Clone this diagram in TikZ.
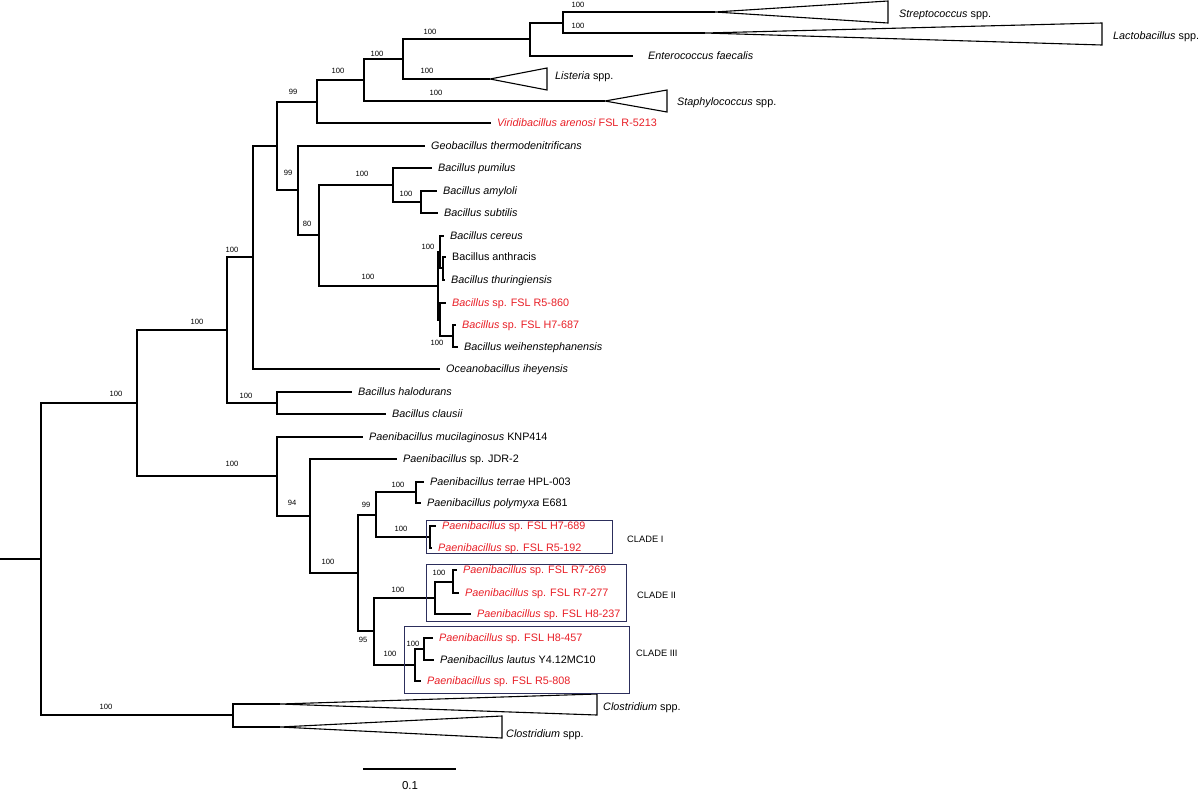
\documentclass[tikz,border=0pt]{standalone}
\usepackage{fontspec}
\setmainfont{Liberation Sans}
\usepackage{xcolor}
\definecolor{fslred}{RGB}{232,30,38}
\definecolor{cladeblue}{RGB}{44,46,92}

\begin{document}
\begin{tikzpicture}[x=1pt, y=-1pt,
                    branch/.style={line width=1.1pt},
                    leaf/.style={anchor=west, inner xsep=6pt, inner ysep=0pt,
                                 text height=9.4pt, text depth=2pt,
                                 font=\fontsize{10.8}{12}\selectfont},
                    fsl/.style={leaf, text=fslred},
                    boot/.style={inner sep=0pt, font=\fontsize{7.6}{8}\selectfont},
                    cladebox/.style={draw=cladeblue, line width=1pt},
                    clade/.style={anchor=west, inner sep=0pt, font=\fontsize{9.3}{11}\selectfont}]
  \useasboundingbox (0,0) rectangle (1200,796);

  \coordinate (root0) at (0,559);
  \coordinate (root) at (41,559);
  \coordinate (nA) at (137,403);
  \coordinate (nB) at (227,330);
  \coordinate (nC) at (253,257);
  \coordinate (nD) at (277,146);
  \coordinate (nE) at (317,102);
  \coordinate (nF) at (364,80);
  \coordinate (nI) at (403,59);
  \coordinate (nJ) at (530,39);
  \coordinate (nK) at (563,23);
  \coordinate (nG) at (298,190);
  \coordinate (nL) at (319,235);
  \coordinate (nM) at (393,185);
  \coordinate (nO) at (421,202);
  \coordinate (nN) at (438,286);
  \coordinate (nQ) at (440,252);
  \coordinate (nS) at (443,268);
  \coordinate (nR) at (440,320);
  \coordinate (nT) at (453,336);
  \coordinate (nH) at (277,403);
  \coordinate (nP) at (277,476);
  \coordinate (nU) at (310,516);
  \coordinate (nV) at (358,573);
  \coordinate (nW) at (376,515);
  \coordinate (nY) at (416,492);
  \coordinate (nZ) at (430,537);
  \coordinate (nX) at (374,631);
  \coordinate (cII) at (435,598);
  \coordinate (cIIa) at (453,582);
  \coordinate (cIII) at (415,665);
  \coordinate (cIIIa) at (424,649);
  \coordinate (clos) at (233,715);

  \coordinate (strepA) at (715,12);
  \coordinate (lactoA) at (705,33);
  \coordinate (listA) at (490,79);
  \coordinate (staphA) at (605,101);
  \coordinate (closTA) at (280,704);
  \coordinate (closBA) at (280,727);

  \draw[branch] (strepA) -- (888,1) -- (888,23) -- cycle;
  \draw[branch] (lactoA) -- (1102,23) -- (1102,45) -- cycle;
  \draw[branch] (listA) -- (547,68) -- (547,90) -- cycle;
  \draw[branch] (staphA) -- (667,90) -- (667,112) -- cycle;
  \draw[branch] (closTA) -- (597,694) -- (597,715) -- cycle;
  \draw[branch] (closBA) -- (502,716) -- (502,738) -- cycle;

  \node[leaf] (strep) at (893,14) {\textit{Streptococcus} spp.};
  \node[leaf] (lacto) at (1107,36) {\textit{Lactobacillus} spp.};
  \node[leaf, inner xsep=15pt] (entero) at (633,56) {\textit{Enterococcus faecalis}};
  \node[leaf] (list) at (549,76) {\textit{Listeria} spp.};
  \node[leaf] (staph) at (671,102) {\textit{Staphylococcus} spp.};
  \node[fsl] (virid) at (491,123) {\textit{Viridibacillus arenosi} FSL R-5213};
  \node[leaf] (geo) at (425,146) {\textit{Geobacillus thermodenitrificans}};
  \node[leaf] (pumil) at (432,168) {\textit{Bacillus pumilus}};
  \node[leaf] (amylo) at (437,191) {\textit{Bacillus amyloli}};
  \node[leaf] (subt) at (438,213) {\textit{Bacillus subtilis}};
  \node[leaf] (cereus) at (444,236) {\textit{Bacillus cereus}};
  \node[leaf] (anthr) at (446,257) {Bacillus anthracis};
  \node[leaf] (thur) at (445,280) {\textit{Bacillus thuringiensis}};
  \node[fsl] (rfive) at (446,303) {\textit{Bacillus} sp. FSL R5-860};
  \node[fsl] (hseven) at (456,325) {\textit{Bacillus} sp. FSL H7-687};
  \node[leaf] (weih) at (458,347) {\textit{Bacillus weihenstephanensis}};
  \node[leaf] (ocean) at (440,369) {\textit{Oceanobacillus iheyensis}};
  \node[leaf] (halo) at (352,392) {\textit{Bacillus halodurans}};
  \node[leaf] (claus) at (386,414) {\textit{Bacillus clausii}};
  \node[leaf] (mucil) at (363,437) {\textit{Paenibacillus mucilaginosus} KNP414};
  \node[leaf] (jdr) at (397,459) {\textit{Paenibacillus} sp. JDR-2};
  \node[leaf] (terrae) at (424,482) {\textit{Paenibacillus terrae} HPL-003};
  \node[leaf] (polym) at (421,503) {\textit{Paenibacillus polymyxa} E681};
  \node[fsl] (hsix) at (436,526) {\textit{Paenibacillus} sp. FSL H7-689};
  \node[fsl] (rone) at (432,548) {\textit{Paenibacillus} sp. FSL R5-192};
  \node[fsl] (rtwo) at (457,570) {\textit{Paenibacillus} sp. FSL R7-269};
  \node[fsl] (rsev) at (459,593) {\textit{Paenibacillus} sp. FSL R7-277};
  \node[fsl] (height) at (471,614) {\textit{Paenibacillus} sp. FSL H8-237};
  \node[fsl] (hfour) at (433,638) {\textit{Paenibacillus} sp. FSL H8-457};
  \node[leaf] (lautus) at (434,660) {\textit{Paenibacillus lautus} Y4.12MC10};
  \node[fsl] (reight) at (421,681) {\textit{Paenibacillus} sp. FSL R5-808};
  \node[leaf] (closT) at (597,707) {\textit{Clostridium} spp.};
  \node[leaf] (closB) at (500,734) {\textit{Clostridium} spp.};

  \draw[branch] (root0) -- (root);
  \draw[branch] (root) |- (nA);
  \draw[branch] (root) |- (clos);
  \draw[branch] (nA) |- (nB);
  \draw[branch] (nA) |- (nP);
  \draw[branch] (nB) |- (nC);
  \draw[branch] (nB) |- (nH);
  \draw[branch] (nC) |- (nD);
  \draw[branch] (nC) |- (ocean.west);
  \draw[branch] (nD) |- (nE);
  \draw[branch] (nD) |- (nG);
  \draw[branch] (nE) |- (nF);
  \draw[branch] (nE) |- (virid.west);
  \draw[branch] (nF) |- (nI);
  \draw[branch] (nF) |- (staphA);
  \draw[branch] (nI) |- (nJ);
  \draw[branch] (nI) |- (listA);
  \draw[branch] (nJ) |- (nK);
  \draw[branch] (nJ) |- (entero.west);
  \draw[branch] (nK) |- (strepA);
  \draw[branch] (nK) |- (lactoA);
  \draw[branch] (nG) |- (geo.west);
  \draw[branch] (nG) |- (nL);
  \draw[branch] (nL) |- (nM);
  \draw[branch] (nL) |- (nN);
  \draw[branch] (nM) |- (pumil.west);
  \draw[branch] (nM) |- (nO);
  \draw[branch] (nO) |- (amylo.west);
  \draw[branch] (nO) |- (subt.west);
  \draw[branch] (nN) |- (nQ);
  \draw[branch] (nN) |- (nR);
  \draw[branch] (nQ) |- (cereus.west);
  \draw[branch] (nQ) |- (nS);
  \draw[branch] (nS) |- (anthr.west);
  \draw[branch] (nS) |- (thur.west);
  \draw[branch] (nR) |- (rfive.west);
  \draw[branch] (nR) |- (nT);
  \draw[branch] (nT) |- (hseven.west);
  \draw[branch] (nT) |- (weih.west);
  \draw[branch] (nH) |- (halo.west);
  \draw[branch] (nH) |- (claus.west);
  \draw[branch] (nP) |- (mucil.west);
  \draw[branch] (nP) |- (nU);
  \draw[branch] (nU) |- (jdr.west);
  \draw[branch] (nU) |- (nV);
  \draw[branch] (nV) |- (nW);
  \draw[branch] (nV) |- (nX);
  \draw[branch] (nW) |- (nY);
  \draw[branch] (nW) |- (nZ);
  \draw[branch] (nY) |- (terrae.west);
  \draw[branch] (nY) |- (polym.west);
  \draw[branch] (nZ) |- (hsix.west);
  \draw[branch] (nZ) |- (rone.west);
  \draw[branch] (nX) |- (cII);
  \draw[branch] (nX) |- (cIII);
  \draw[branch] (cII) |- (cIIa);
  \draw[branch] (cII) |- (height.west);
  \draw[branch] (cIIa) |- (rtwo.west);
  \draw[branch] (cIIa) |- (rsev.west);
  \draw[branch] (cIII) |- (cIIIa);
  \draw[branch] (cIII) |- (reight.west);
  \draw[branch] (cIIIa) |- (hfour.west);
  \draw[branch] (cIIIa) |- (lautus.west);
  \draw[branch] (clos) |- (closTA);
  \draw[branch] (clos) |- (closBA);

  \node[boot] (bStrep) at (578,5) {100};
  \node[boot] (bLacto) at (578,26) {100};
  \node[boot] (bJ) at (430,32) {100};
  \node[boot] (bI) at (377,54) {100};
  \node[boot] (bList) at (427,71) {100};
  \node[boot] (bStaph) at (436,93) {100};
  \node[boot] (bF) at (338,71) {100};
  \node[boot] (bE) at (293,92) {99};
  \node[boot] (bG) at (288,173) {99};
  \node[boot] (bL) at (307,224) {80};
  \node[boot] (bM) at (362,174) {100};
  \node[boot] (bO) at (406,194) {100};
  \node[boot] (bN) at (368,277) {100};
  \node[boot] (bQ) at (428,247) {100};
  \node[boot] (bT) at (437,343) {100};
  \node[boot] (bC) at (232,250) {100};
  \node[boot] (bB) at (197,322) {100};
  \node[boot] (bH) at (246,396) {100};
  \node[boot] (bA) at (116,394) {100};
  \node[boot] (bP) at (232,464) {100};
  \node[boot] (bU) at (292,503) {94};
  \node[boot] (bV) at (328,562) {100};
  \node[boot] (bW) at (366,505) {99};
  \node[boot] (bY) at (398,485) {100};
  \node[boot] (bZ) at (401,529) {100};
  \node[boot] (bII) at (398,590) {100};
  \node[boot] (bIIa) at (439,573) {100};
  \node[boot] (bX) at (363,640) {95};
  \node[boot] (bIII) at (390,654) {100};
  \node[boot] (bIIIa) at (413,644) {100};
  \node[boot] (bClos) at (106,707) {100};

  \draw[cladebox] (426,520) rectangle (612,553);
  \draw[cladebox] (426,564) rectangle (626,621);
  \draw[cladebox] (404,626) rectangle (629,693);
  \node[clade] (cladeI) at (627,539) {CLADE I};
  \node[clade] (cladeII) at (637,595) {CLADE II};
  \node[clade] (cladeIII) at (636,653) {CLADE III};

  \coordinate (sbl) at (363,769);
  \coordinate (sbr) at (456,769);
  \draw[line width=1.1pt] (sbl) -- (sbr);
  \node[font=\fontsize{11.5}{13}\selectfont] (scale) at (410,786) {0.1};
\end{tikzpicture}
\end{document}
